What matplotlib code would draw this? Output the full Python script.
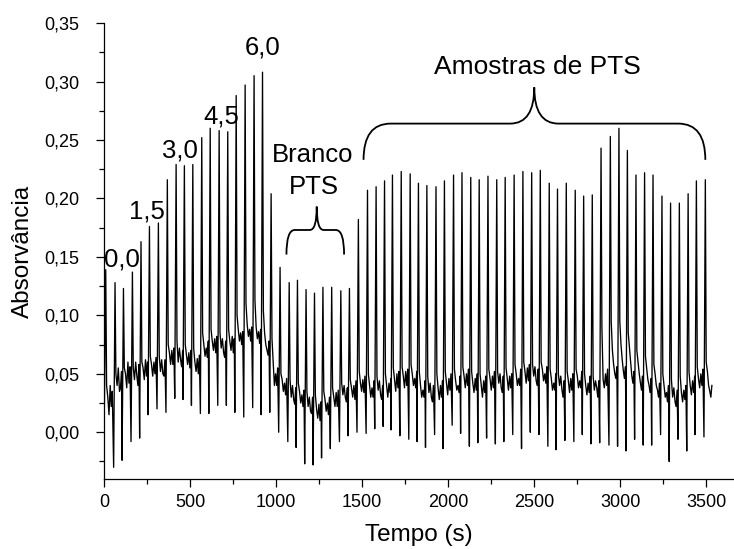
import matplotlib
matplotlib.use("Agg")
import matplotlib.pyplot as plt
from matplotlib.path import Path
from matplotlib.patches import PathPatch
from matplotlib.ticker import MultipleLocator, FuncFormatter

# ---------------- data ----------------
peak_t = [10, 64, 113, 165, 215, 264, 316, 368, 419, 467, 516, 568, 617, 669, 719,
          768, 820, 872, 921, 971, 1023,
          1076, 1124, 1174, 1223, 1272, 1323, 1376, 1426,
          1478, 1531, 1581, 1630, 1676, 1727, 1779, 1827, 1876, 1929, 1978, 2031,
          2080, 2131, 2180, 2231, 2282, 2331, 2383, 2434, 2485, 2535, 2587, 2635,
          2686, 2738, 2787, 2837, 2888, 2942, 2992, 3041, 3091, 3141, 3190, 3242,
          3292, 3343, 3394, 3442, 3494]

peak_h = [0.139, 0.128, 0.123, 0.137, 0.163, 0.176, 0.179, 0.216, 0.229, 0.228,
          0.229, 0.252, 0.260, 0.258, 0.257, 0.288, 0.297, 0.305, 0.308, 0.204,
          0.141, 0.128, 0.130, 0.122, 0.119, 0.124, 0.124, 0.121, 0.123,
          0.182, 0.207, 0.210, 0.215, 0.220, 0.223, 0.221, 0.213, 0.211, 0.210,
          0.215, 0.220, 0.222, 0.218, 0.216, 0.219, 0.216, 0.218, 0.220, 0.223,
          0.222, 0.224, 0.213, 0.208, 0.213, 0.207, 0.202, 0.203, 0.243, 0.253,
          0.260, 0.241, 0.220, 0.222, 0.220, 0.202, 0.196, 0.196, 0.204, 0.215,
          0.216]

# dip just before each peak
trough_h = [0.020, -0.030, -0.024, -0.008, -0.005, 0.015, 0.020, 0.017, 0.029, 0.028,
            0.023, 0.016, 0.016, 0.023, 0.023, 0.017, 0.013, 0.021, 0.015, 0.017,
            0.000, -0.008, -0.013, -0.027, -0.028, -0.022, -0.014, -0.008, -0.003,
            0.000, -0.001, 0.003, 0.005, 0.002, -0.003, -0.006, -0.008, -0.013, -0.002,
            -0.014, 0.006, -0.001, -0.012, -0.009, -0.005, -0.010, -0.008, -0.002, -0.014,
            0.000, -0.002, -0.012, -0.015, -0.007, -0.008, -0.002, -0.010, -0.009, -0.011,
            -0.012, -0.016, -0.006, -0.011, -0.011, -0.002, -0.025, -0.006, -0.016, -0.002,
            -0.004]

# level just after each peak (shoulder)
shoulder_h = [0.040, 0.050, 0.055, 0.055, 0.060, 0.065, 0.065, 0.075, 0.078, 0.075,
              0.072, 0.085, 0.088, 0.085, 0.088, 0.100, 0.110, 0.113, 0.104, 0.080,
              0.050, 0.045, 0.042, 0.035, 0.032, 0.035, 0.038, 0.042, 0.045,
              0.052, 0.050, 0.048, 0.050, 0.055, 0.056, 0.058, 0.052, 0.048, 0.050,
              0.052, 0.054, 0.056, 0.052, 0.050, 0.054, 0.052, 0.055, 0.058, 0.060,
              0.058, 0.060, 0.054, 0.050, 0.052, 0.054, 0.050, 0.048, 0.090, 0.095,
              0.095, 0.085, 0.070, 0.065, 0.058, 0.050, 0.045, 0.048, 0.052, 0.056,
              0.060]

# baseline readings between peaks (five per cycle)
base_1 = [0.030, 0.040, 0.050, 0.045, 0.055, 0.058, 0.052, 0.068, 0.060, 0.066,
          0.060, 0.075, 0.078, 0.072, 0.078, 0.088, 0.092, 0.090, 0.085, 0.060,
          0.045, 0.030, 0.035, 0.022, 0.020, 0.028, 0.030, 0.032, 0.038,
          0.042, 0.040, 0.036, 0.040, 0.045, 0.048, 0.050, 0.040, 0.034, 0.038,
          0.042, 0.044, 0.048, 0.042, 0.040, 0.046, 0.042, 0.046, 0.050, 0.052,
          0.048, 0.054, 0.046, 0.040, 0.044, 0.048, 0.040, 0.036, 0.045, 0.070,
          0.075, 0.072, 0.060, 0.055, 0.050, 0.040, 0.030, 0.034, 0.040, 0.046,
          0.052]
base_2 = [0.015, 0.055, 0.038, 0.060, 0.045, 0.048, 0.062, 0.058, 0.072, 0.058,
          0.052, 0.065, 0.070, 0.080, 0.070, 0.078, 0.082, 0.080, 0.075, 0.040,
          0.035, 0.040, 0.025, 0.030, 0.012, 0.018, 0.022, 0.040, 0.030,
          0.035, 0.030, 0.044, 0.030, 0.035, 0.038, 0.040, 0.030, 0.042, 0.028,
          0.032, 0.036, 0.038, 0.034, 0.030, 0.036, 0.050, 0.036, 0.040, 0.042,
          0.056, 0.044, 0.036, 0.048, 0.034, 0.038, 0.032, 0.044, 0.038, 0.058,
          0.062, 0.060, 0.050, 0.045, 0.040, 0.030, 0.038, 0.026, 0.032, 0.038,
          0.040]
base_3 = [0.040, 0.035, 0.060, 0.048, 0.062, 0.060, 0.050, 0.070, 0.062, 0.068,
          0.063, 0.072, 0.080, 0.068, 0.082, 0.085, 0.088, 0.086, 0.070, 0.050,
          0.042, 0.028, 0.032, 0.018, 0.024, 0.025, 0.034, 0.030, 0.040,
          0.045, 0.038, 0.032, 0.042, 0.050, 0.052, 0.046, 0.036, 0.030, 0.040,
          0.046, 0.040, 0.050, 0.046, 0.044, 0.048, 0.038, 0.048, 0.046, 0.055,
          0.044, 0.050, 0.042, 0.036, 0.046, 0.044, 0.042, 0.038, 0.050, 0.050,
          0.052, 0.048, 0.042, 0.040, 0.036, 0.034, 0.026, 0.036, 0.044, 0.050,
          0.035]
base_4 = [0.022, 0.038, 0.042, 0.040, 0.048, 0.050, 0.048, 0.058, 0.056, 0.055,
          0.050, 0.064, 0.068, 0.064, 0.068, 0.075, 0.078, 0.076, 0.066, 0.040,
          0.032, 0.024, 0.022, 0.016, 0.010, 0.015, 0.022, 0.026, 0.028,
          0.034, 0.030, 0.028, 0.034, 0.038, 0.040, 0.038, 0.030, 0.026, 0.030,
          0.036, 0.034, 0.040, 0.036, 0.034, 0.038, 0.034, 0.038, 0.040, 0.044,
          0.040, 0.042, 0.036, 0.030, 0.036, 0.038, 0.034, 0.030, 0.040, 0.046,
          0.046, 0.042, 0.036, 0.034, 0.030, 0.026, 0.022, 0.028, 0.034, 0.040,
          0.030]
base_5 = [0.035, 0.052, 0.056, 0.058, 0.060, 0.064, 0.062, 0.072, 0.070, 0.070,
          0.066, 0.078, 0.082, 0.078, 0.080, 0.086, 0.090, 0.088, 0.078, 0.055,
          0.046, 0.038, 0.036, 0.030, 0.026, 0.030, 0.036, 0.038, 0.044,
          0.048, 0.044, 0.040, 0.046, 0.052, 0.054, 0.052, 0.044, 0.040, 0.044,
          0.050, 0.048, 0.054, 0.050, 0.048, 0.052, 0.048, 0.050, 0.054, 0.058,
          0.054, 0.056, 0.050, 0.044, 0.050, 0.052, 0.048, 0.044, 0.054, 0.056,
          0.056, 0.052, 0.048, 0.046, 0.042, 0.040, 0.036, 0.040, 0.048, 0.054,
          0.040]

x_ticks = [0, 500, 1000, 1500, 2000, 2500, 3000, 3500]
y_ticks = [0.00, 0.05, 0.10, 0.15, 0.20, 0.25, 0.30, 0.35]

level_labels = ["0,0", "1,5", "3,0", "4,5", "6,0"]
level_pos = [(105, 0.148), (247, 0.189), (442, 0.241), (680, 0.270), (919, 0.329)]

# braces: (x_left, x_right, y_end, y_bar, x_tip, y_tip, r_end, r_tip)
brace_blank = (1060, 1395, 0.152, 0.173, 1236, 0.193, 48, 40)
brace_samples = (1508, 3494, 0.233, 0.264, 2500, 0.295, 157, 140)

# ---------------- build trace ----------------
offsets = [-8, 0, 5, 12, 19, 26, 32, 38]
tt, yy = [], []
for i in range(len(peak_t)):
    tp = peak_t[i]
    vals = [trough_h[i], peak_h[i], shoulder_h[i], base_1[i], base_2[i],
            base_3[i], base_4[i], base_5[i]]
    tt += [tp + o for o in offsets]
    yy += vals

plt.rcParams['font.family'] = ['Liberation Sans', 'DejaVu Sans']
fig = plt.figure(figsize=(7.34, 5.49), dpi=100)
ax = fig.add_axes([0.1417, 0.1275, 0.857, 0.8305])
ax.plot(tt, yy, color='black', lw=0.95)

ax.set_xlim(0, 3655)
ax.set_ylim(-0.04, 0.35)
ax.spines['top'].set_visible(False)
ax.spines['right'].set_visible(False)
for s in ('left', 'bottom'):
    ax.spines[s].set_linewidth(0.9)
ax.set_xticks(x_ticks)
ax.set_yticks(y_ticks)
ax.xaxis.set_minor_locator(MultipleLocator(250))
ax.yaxis.set_minor_locator(MultipleLocator(0.025))
ax.yaxis.set_major_formatter(FuncFormatter(lambda v, p: f"{v:.2f}".replace('.', ',')))
ax.tick_params(which='major', direction='out', length=6, width=0.9, labelsize=13)
ax.tick_params(axis='x', which='major', pad=5)
ax.tick_params(axis='y', which='major', pad=12)
ax.tick_params(which='minor', direction='out', length=3.5, width=0.9)
ax.set_xlabel("Tempo (s)", fontsize=17.5, labelpad=9)
ax.set_ylabel("Absorvância", fontsize=17.5, labelpad=7)

for lab, (x, y) in zip(level_labels, level_pos):
    ax.text(x, y, lab, fontsize=18.5, ha='center', va='center')
ax.text(1215, 0.237, "Branco", fontsize=18.5, ha='center', va='center')
ax.text(1221, 0.210, "PTS", fontsize=18.5, ha='center', va='center')
ax.text(2517, 0.312, "Amostras de PTS", fontsize=19, ha='center', va='center')


def brace(spec):
    x0, x1, ye, yb, xm, yt, r1, r2 = spec
    verts = [(x0, ye), (x0, yb), (x0 + r1, yb), (xm - r2, yb), (xm, yb), (xm, yt),
             (xm, yt), (xm, yb), (xm + r2, yb), (x1 - r1, yb), (x1, yb), (x1, ye)]
    codes = [Path.MOVETO, Path.CURVE3, Path.CURVE3, Path.LINETO, Path.CURVE3, Path.CURVE3,
             Path.MOVETO, Path.CURVE3, Path.CURVE3, Path.LINETO, Path.CURVE3, Path.CURVE3]
    ax.add_patch(PathPatch(Path(verts, codes), fill=False, lw=1.3, color='black'))


brace(brace_blank)
brace(brace_samples)

fig.savefig("out.png", dpi=100)
